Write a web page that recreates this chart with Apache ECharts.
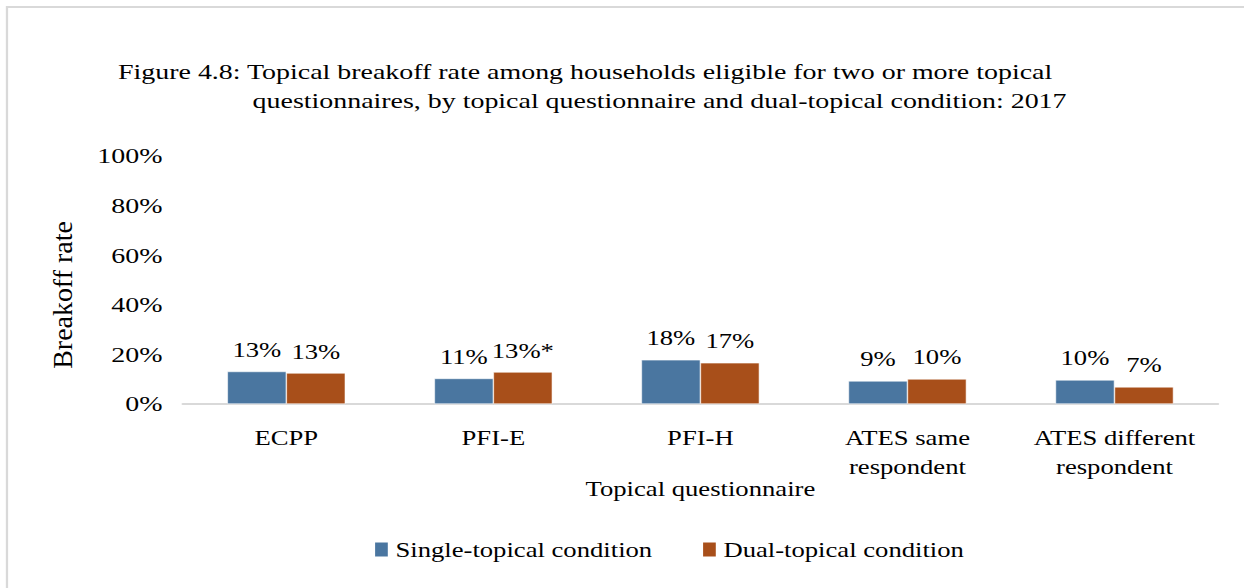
<!DOCTYPE html>
<html>
<head>
<meta charset="utf-8">
<script src="https://cdn.jsdelivr.net/npm/echarts@6/dist/echarts.min.js"></script>
<style>
  html, body { margin: 0; padding: 0; background: #fff; overflow: hidden; }
  /* the reference is stretched sideways (~1.27x), so draw narrow and widen */
  #chart { width: 980px; height: 588px; transform: scaleX(1.2694); transform-origin: 0 0; }
</style>
</head>
<body>
<div id="chart"></div>
<script>
// categories on the x axis
var categories = ['ECPP', 'PFI-E', 'PFI-H', 'ATES same\nrespondent', 'ATES different\nrespondent'];
// breakoff rate (%) per condition
var singleTopical = [13.1, 10.3, 17.8, 9.3, 9.7];
var dualTopical = [12.5, 12.9, 16.6, 10.1, 6.9];
// printed labels (rounded, * = significant)
var singleLabels = ['13%', '11%', '18%', '9%', '10%'];
var dualLabels = ['13%', '13%*', '17%', '10%', '7%'];

// no quotes: svg output puts this inside an attribute
var font = 'Liberation Serif, Times New Roman, serif';
var chart = echarts.init(document.getElementById('chart'), null, { renderer: 'svg' });

chart.setOption({
  backgroundColor: '#fff',
  textStyle: { fontFamily: font },
  title: [
    {
      text: 'Figure 4.8: Topical breakoff rate among households eligible for two or more topical',
      left: 88, top: 56,
      textStyle: { fontFamily: font, fontSize: 22, fontWeight: 'normal', color: '#000' }
    },
    {
      text: 'questionnaires, by topical questionnaire and dual-topical condition: 2017',
      left: 194, top: 85,
      textStyle: { fontFamily: font, fontSize: 22, fontWeight: 'normal', color: '#000' }
    }
  ],
  legend: {
    bottom: 23,
    left: 288.5,
    itemWidth: 12,
    itemHeight: 16,
    itemGap: 38,
    icon: 'rect',
    textStyle: { fontFamily: font, fontSize: 21, color: '#000' },
    data: ['Single-topical condition', 'Dual-topical condition']
  },
  grid: { left: 144, right: 20.5, top: 156, bottom: 184 },
  graphic: [
    {
      type: 'rect',
      shape: { x: 5.5, y: 7, width: 1000, height: 600 },
      style: { fill: 'none', stroke: '#d9d9d9', lineWidth: 1.8 },
      silent: true
    },
    {
      type: 'text',
      x: 49.6, y: 295,
      rotation: Math.PI / 2,
      scaleX: 1.27,
      style: {
        text: 'Breakoff rate',
        font: '22px ' + font,
        fill: '#000',
        align: 'center',
        verticalAlign: 'middle'
      }
    }
  ],
  xAxis: {
    type: 'category',
    data: categories,
    name: 'Topical questionnaire',
    nameLocation: 'middle',
    nameGap: 74,
    nameMoveOverlap: false,
    nameTextStyle: { fontFamily: font, fontSize: 21, color: '#000' },
    axisLine: { lineStyle: { color: '#d9d9d9', width: 2 } },
    axisTick: { show: false },
    axisLabel: { interval: 0, fontFamily: font, fontSize: 21, color: '#000', margin: 20, lineHeight: 29 }
  },
  yAxis: {
    type: 'value',
    min: 0, max: 100, interval: 20,
    splitLine: { show: false },
    axisLine: { show: false },
    axisTick: { show: false },
    axisLabel: { fontFamily: font, fontSize: 22, color: '#000', margin: 16, formatter: '{value}%' }
  },
  series: [
    {
      name: 'Single-topical condition',
      type: 'bar',
      data: singleTopical,
      barGap: '0%',
      barCategoryGap: '43%',
      itemStyle: { color: '#4a76a0', borderColor: '#ffffff', borderWidth: 0.5 },
      label: {
        show: true, position: 'top', distance: 11,
        fontFamily: font, fontSize: 21, color: '#000',
        formatter: function (p) { return singleLabels[p.dataIndex]; }
      }
    },
    {
      name: 'Dual-topical condition',
      type: 'bar',
      data: dualTopical,
      itemStyle: { color: '#a84f1a', borderColor: '#ffffff', borderWidth: 0.5 },
      label: {
        show: true, position: 'top', distance: 11,
        fontFamily: font, fontSize: 21, color: '#000',
        formatter: function (p) { return dualLabels[p.dataIndex]; }
      }
    }
  ]
});
</script>
</body>
</html>
